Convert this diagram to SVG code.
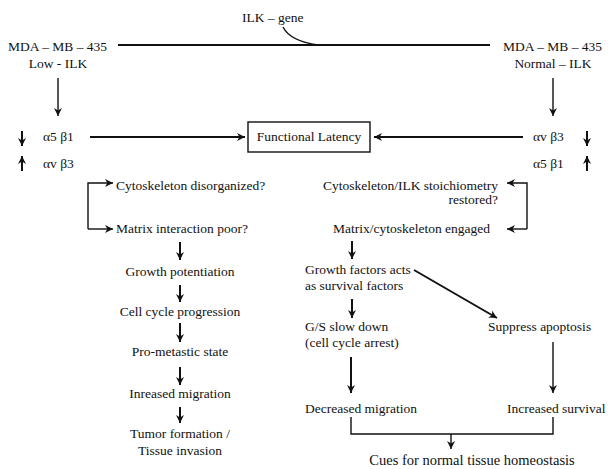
<svg xmlns="http://www.w3.org/2000/svg" width="613" height="469" viewBox="0 0 613 469">
<style>
text{font-family:"Liberation Serif","Times New Roman",serif;font-size:13.5px;fill:#111}
.m{text-anchor:middle}
.e{text-anchor:end}
.c{fill:none;stroke:#111;stroke-width:1.4}
.t{stroke-width:2}
</style>
<defs>
<marker id="ah" viewBox="0 0 10 10" refX="10" refY="5" markerUnits="userSpaceOnUse" markerWidth="9" markerHeight="8" orient="auto">
<path d="M0,0 L10,5 L0,10 L3,5 z" fill="#111"/>
</marker>
</defs>
<rect width="613" height="469" fill="#fff"/>
<g id="connectors">
<line class="c t" x1="118" y1="45" x2="490" y2="45"/>
<path class="c" d="M283,27 Q290,41 318,45"/>
<line class="c" x1="58" y1="78" x2="58" y2="116" marker-end="url(#ah)"/>
<line class="c" x1="553" y1="78" x2="553" y2="116" marker-end="url(#ah)"/>
<line class="c t" x1="22" y1="131" x2="22" y2="146" marker-end="url(#ah)"/>
<line class="c t" x1="22" y1="171" x2="22" y2="156" marker-end="url(#ah)"/>
<line class="c t" x1="587" y1="131" x2="587" y2="146" marker-end="url(#ah)"/>
<line class="c t" x1="587" y1="171" x2="587" y2="156" marker-end="url(#ah)"/>
<line class="c t" x1="90" y1="137" x2="245" y2="137" marker-end="url(#ah)"/>
<line class="c t" x1="523" y1="137" x2="374" y2="137" marker-end="url(#ah)"/>
<path class="c" d="M88,229 V183 H113" marker-end="url(#ah)"/>
<path class="c" d="M88,229 H113" marker-end="url(#ah)"/>
<path class="c" d="M527,229 V183 H507" marker-end="url(#ah)"/>
<path class="c" d="M527,229 H507" marker-end="url(#ah)"/>
<line class="c t" x1="180" y1="242" x2="180" y2="260" marker-end="url(#ah)"/>
<line class="c t" x1="180" y1="285" x2="180" y2="302" marker-end="url(#ah)"/>
<line class="c t" x1="180" y1="323" x2="180" y2="342" marker-end="url(#ah)"/>
<line class="c t" x1="180" y1="367" x2="180" y2="385" marker-end="url(#ah)"/>
<line class="c t" x1="180" y1="407" x2="180" y2="423" marker-end="url(#ah)"/>
<line class="c t" x1="352" y1="241" x2="352" y2="259" marker-end="url(#ah)"/>
<line class="c t" x1="352" y1="299" x2="352" y2="318" marker-end="url(#ah)"/>
<line class="c t" x1="414" y1="270" x2="497" y2="318" marker-end="url(#ah)"/>
<line class="c t" x1="351" y1="357" x2="351" y2="393" marker-end="url(#ah)"/>
<line class="c" x1="553" y1="342" x2="553" y2="393" marker-end="url(#ah)"/>
<path class="c" d="M351,417 V434 H553 V417"/>
<line class="c" x1="451" y1="434" x2="451" y2="449" marker-end="url(#ah)"/>
</g>
<g id="ilk-gene"><text x="242" y="22">ILK – gene</text></g>
<g id="mda-low"><text x="8" y="51">MDA – MB – 435</text><text class="m" x="58" y="68">Low - ILK</text></g>
<g id="mda-normal"><text x="503" y="51">MDA – MB – 435</text><text class="m" x="553" y="68">Normal – ILK</text></g>
<g id="left-integrins"><text x="43" y="141">α5 β1</text><text x="43" y="168">αv β3</text></g>
<g id="right-integrins"><text x="533" y="141">αv β3</text><text x="533" y="168">α5 β1</text></g>
<g id="functional-latency"><rect x="248" y="122" width="122" height="30" fill="#fff" stroke="#111" stroke-width="1.4"/><text class="m" x="309" y="141">Functional Latency</text></g>
<g id="cyto-disorganized"><text x="116" y="190">Cytoskeleton disorganized?</text></g>
<g id="matrix-poor"><text x="116" y="233">Matrix interaction poor?</text></g>
<g id="growth-potentiation"><text class="m" x="180" y="276">Growth potentiation</text></g>
<g id="cell-cycle"><text class="m" x="180" y="316">Cell cycle progression</text></g>
<g id="pro-metastic"><text class="m" x="180" y="356">Pro-metastic state</text></g>
<g id="inreased-migration"><text class="m" x="180" y="398">Inreased migration</text></g>
<g id="tumor"><text class="m" x="180" y="438">Tumor formation /</text><text class="m" x="180" y="455">Tissue invasion</text></g>
<g id="cyto-restored"><text class="e" x="498" y="190">Cytoskeleton/ILK stoichiometry</text><text class="e" x="498" y="204">restored?</text></g>
<g id="matrix-engaged"><text x="333" y="233">Matrix/cytoskeleton engaged</text></g>
<g id="growth-factors"><text x="305" y="274">Growth factors acts</text><text x="305" y="290">as survival factors</text></g>
<g id="gs-slow"><text x="305" y="331">G/S slow down</text><text x="305" y="347">(cell cycle arrest)</text></g>
<g id="suppress-apoptosis"><text x="488" y="331">Suppress apoptosis</text></g>
<g id="decreased-migration"><text x="305" y="413">Decreased migration</text></g>
<g id="increased-survival"><text x="507" y="413">Increased survival</text></g>
<g id="cues"><text class="m" x="472" y="465" style="font-size:14.5px">Cues for normal tissue homeostasis</text></g>
</svg>
